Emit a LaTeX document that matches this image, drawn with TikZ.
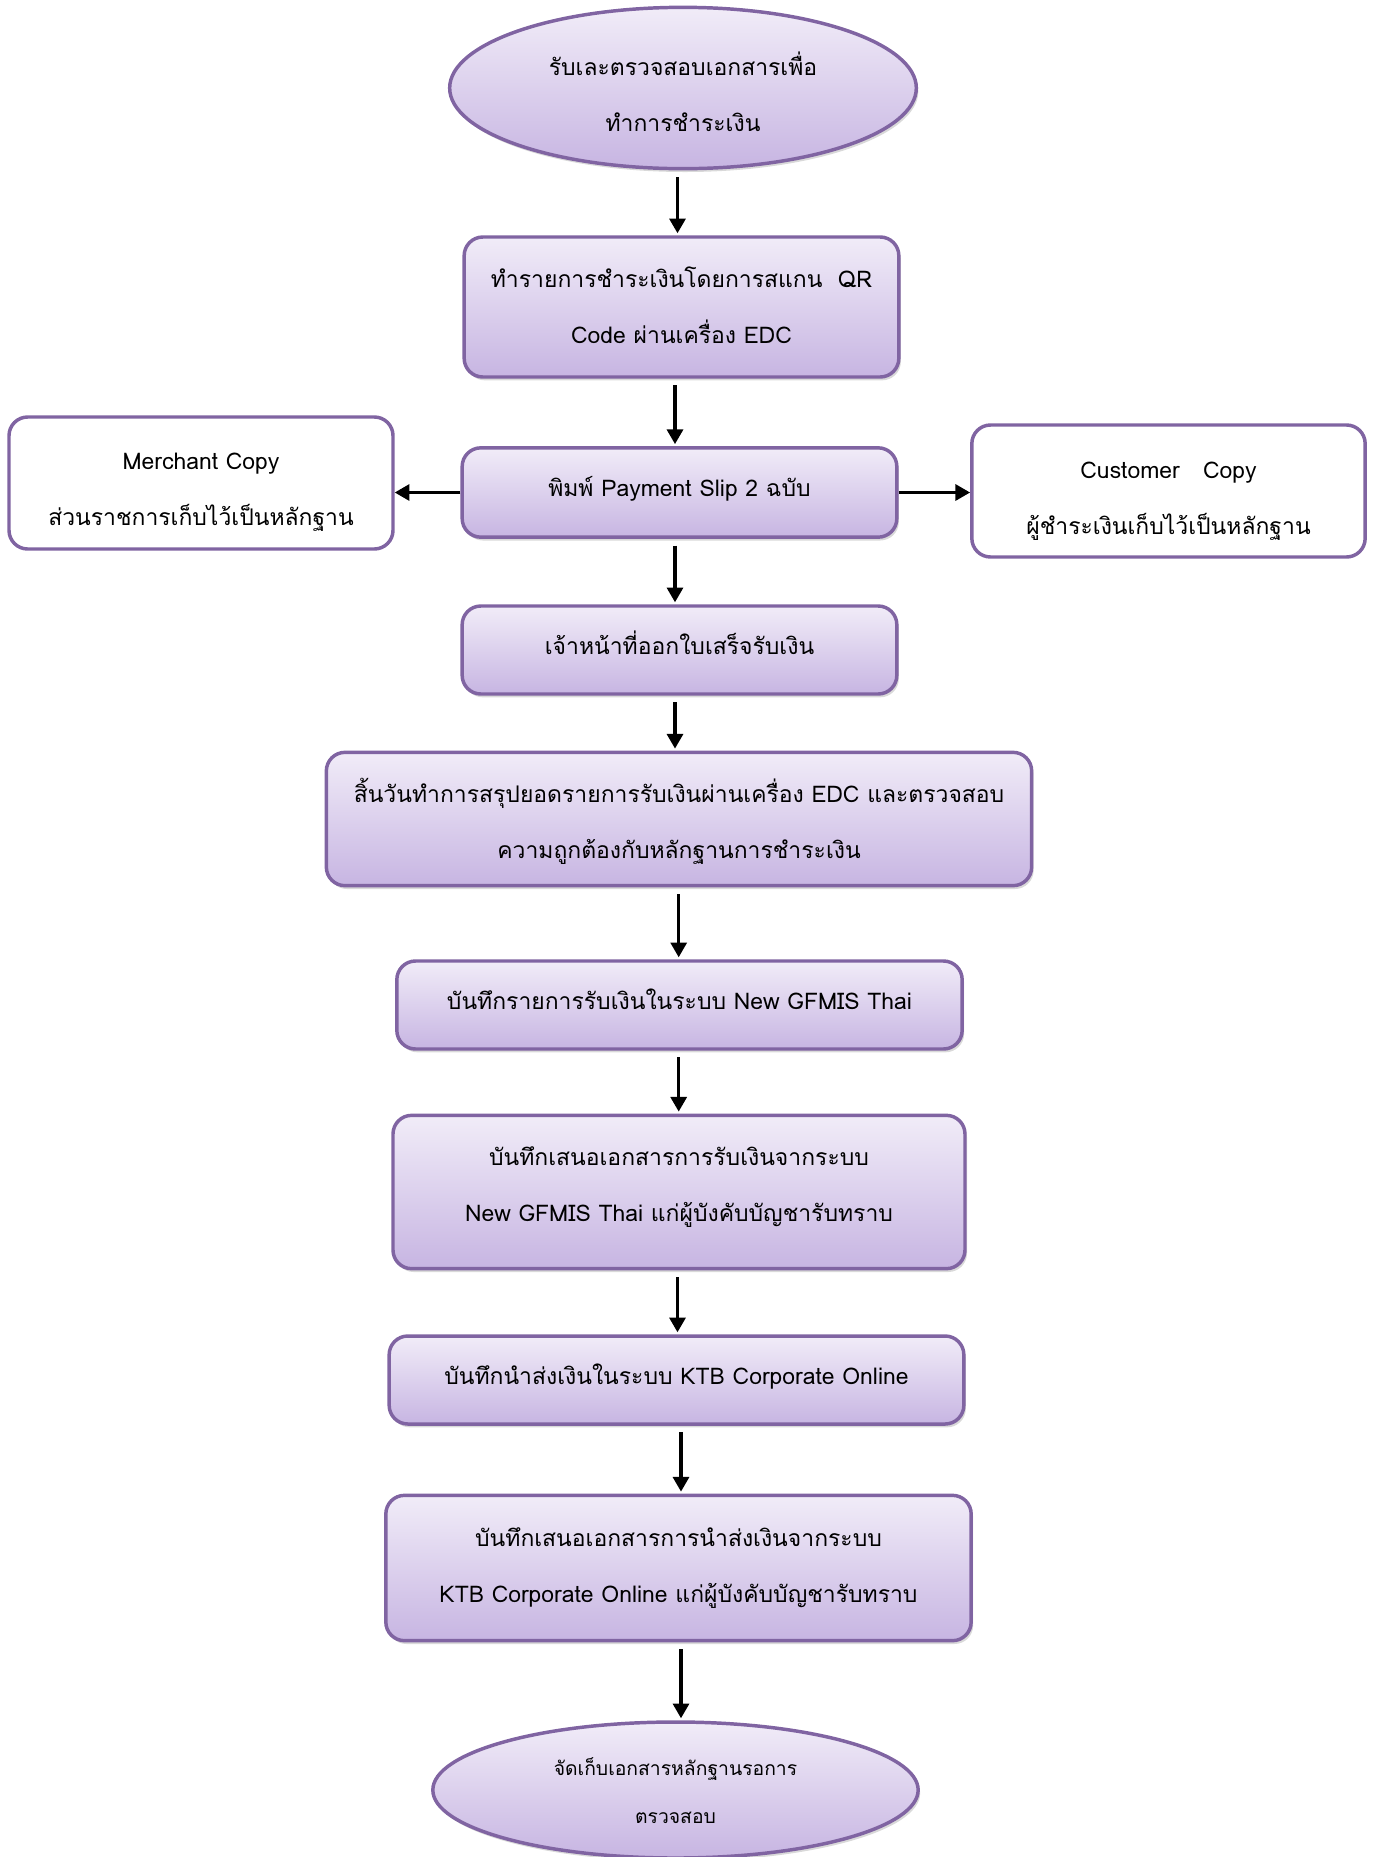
\documentclass[tikz,border=0pt]{standalone}
\usepackage{fontspec}
\setmainfont[Script=Thai]{Loma}
\usetikzlibrary{shapes.geometric,shadows,arrows.meta}
\definecolor{bord}{RGB}{128,100,162}
\definecolor{ftop}{RGB}{241,236,248}
\definecolor{fbot}{RGB}{199,181,226}
\tikzset{
  base/.style={draw=bord, line width=2.6pt, align=center, inner sep=0pt,
    font=\fontsize{17.2}{42}\selectfont, text=black},
  proc/.style={base, rounded corners=14pt, top color=ftop, bottom color=fbot,
    drop shadow={opacity=0.3, shadow xshift=1.5pt, shadow yshift=-2.5pt}},
  term/.style={base, ellipse, top color=ftop, bottom color=fbot,
    drop shadow={opacity=0.3, shadow xshift=1.5pt, shadow yshift=-2.5pt}},
  side/.style={base, rounded corners=14pt, fill=white},
  one/.style={text height=16.2pt, text depth=10pt},
  two/.style={text height=#1, text depth=10pt},
  flow/.style={-{Triangle[length=11pt,width=12pt]}, line width=2.3pt,
    shorten <=5pt, shorten >=1.5pt},
  sideflow/.style={-{Triangle[length=11pt,width=12pt]}, line width=2.3pt}
}
\begin{document}
\begin{tikzpicture}[x=0.75pt,y=-0.75pt]
\useasboundingbox (0,0) rectangle (1374,1857);
\node[term, two=75.2pt, minimum width=350pt, minimum height=121pt] (n1) at (683,88)
  {รับเละตรวจสอบเอกสารเพื่อ\\ทำการชำระเงิน};
\node[proc, two=64.8pt, minimum width=326pt, minimum height=105pt] (n2) at (681.5,307)
  {ทำรายการชำระเงินโดยการสแกน~~QR\\Code ผ่านเครื่อง EDC};
\node[proc, one, minimum width=326pt, minimum height=67pt] (n3) at (679.5,492.5)
  {พิมพ์ Payment Slip 2 ฉบับ};
\node[side, two=73.5pt, minimum width=288pt, minimum height=99pt] (ml) at (201,483)
  {Merchant Copy\\ส่วนราชการเก็บไว้เป็นหลักฐาน};
\node[side, two=74.8pt, minimum width=295pt, minimum height=99pt] (cr) at (1168.5,491)
  {Customer~~~Copy\\ผู้ชำระเงินเก็บไว้เป็นหลักฐาน};
\node[proc, one, minimum width=326pt, minimum height=66pt] (n4) at (679.5,650)
  {เจ้าหน้าที่ออกใบเสร็จรับเงิน};
\node[proc, two=69.6pt, minimum width=529pt, minimum height=100pt] (n5) at (679,819)
  {สิ้นวันทำการสรุปยอดรายการรับเงินผ่านเครื่อง EDC และตรวจสอบ\\ความถูกต้องกับหลักฐานการชำระเงิน};
\node[proc, one, minimum width=424pt, minimum height=66pt] (n6) at (679.5,1005)
  {บันทึกรายการรับเงินในระบบ New GFMIS Thai};
\node[proc, two=54.8pt, minimum width=429pt, minimum height=115pt] (n7) at (679,1192)
  {บันทึกเสนอเอกสารการรับเงินจากระบบ\\New GFMIS Thai แก่ผู้บังคับบัญชารับทราบ};
\node[proc, one, minimum width=431pt, minimum height=66pt] (n8) at (676.5,1380)
  {บันทึกนำส่งเงินในระบบ KTB Corporate Online};
\node[proc, two=61pt, minimum width=439pt, minimum height=109pt] (n9) at (678.5,1568)
  {บันทึกเสนอเอกสารการนำส่งเงินจากระบบ\\KTB Corporate Online แก่ผู้บังคับบัญชารับทราบ};
\node[term, minimum width=364pt, minimum height=102pt, text height=58.8pt, text depth=8pt,
  font=\fontsize{14.5}{36}\selectfont] (n10) at (675.5,1790)
  {จัดเก็บเอกสารหลักฐานรอการ\\ตรวจสอบ};
\draw[flow] (n1.south -| 677.5,0) -- (n2.north -| 677.5,0);
\draw[flow] (n2.south -| 675,0) -- (n3.north -| 675,0);
\draw[sideflow] (n3.west) -- (n3.west -| ml.east);
\draw[sideflow] (n3.east) -- (n3.east -| cr.west);
\draw[flow] (n3.south -| 675,0) -- (n4.north -| 675,0);
\draw[flow] (n4.south -| 675,0) -- (n5.north -| 675,0);
\draw[flow] (n5.south -| 678.7,0) -- (n6.north -| 678.7,0);
\draw[flow] (n6.south -| 678.7,0) -- (n7.north -| 678.7,0);
\draw[flow] (n7.south -| 677.5,0) -- (n8.north -| 677.5,0);
\draw[flow] (n8.south -| 681,0) -- (n9.north -| 681,0);
\draw[flow] (n9.south -| 681,0) -- (n10.north -| 681,0);
\end{tikzpicture}
\end{document}
